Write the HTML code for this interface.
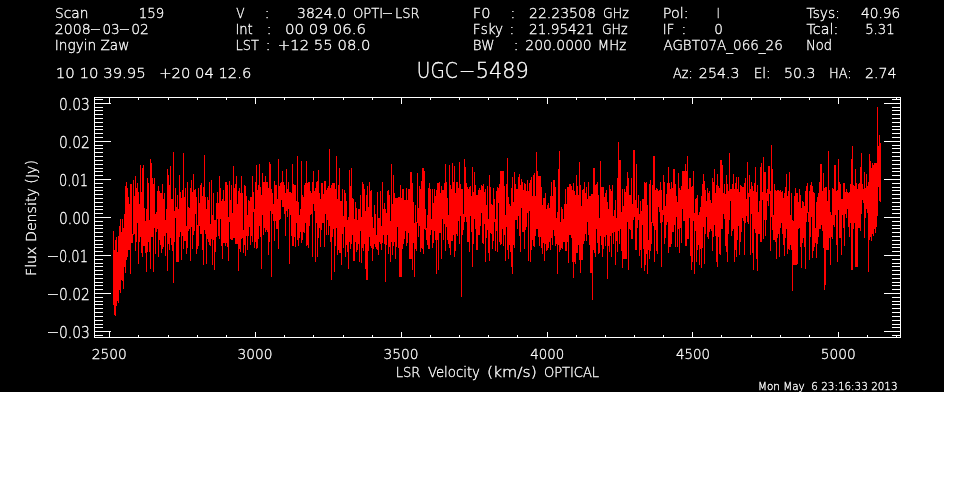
<!DOCTYPE html>
<html><head><meta charset="utf-8"><title>UGC-5489</title>
<style>html,body{margin:0;padding:0;background:#fff;}svg{display:block}</style></head>
<body><svg width="962" height="490" viewBox="0 0 962 490">
<rect x="0" y="0" width="962" height="490" fill="#fff"/>
<rect x="0" y="0" width="944" height="392" fill="#000"/>
<path d="M113.5 231V305M114.5 250V315M115.5 240V316M116.5 237V306M117.5 252V301M118.5 236V303M119.5 226V290M120.5 219V293M121.5 232V280M122.5 219V281M123.5 228V289M124.5 214V267M125.5 186V273M126.5 182V260M127.5 188V257M128.5 197V250M129.5 204V250M130.5 184V274M131.5 184V243M132.5 234V243M133.5 180V235M134.5 196V234M135.5 176V251M136.5 188V242M137.5 183V223M138.5 192V264M139.5 204V242M140.5 165V237M141.5 192V253M142.5 168V257M143.5 165V246M144.5 208V246M145.5 221V253M146.5 209V272M147.5 178V252M148.5 183V242M149.5 220V252M150.5 159V269M151.5 163V237M152.5 178V237M153.5 184V272M154.5 178V228M155.5 214V254M156.5 212V232M157.5 191V229M158.5 186V257M159.5 191V240M160.5 193V245M161.5 193V253M162.5 184V249M163.5 199V247M164.5 193V236M165.5 220V256M166.5 209V233M167.5 169V271M168.5 175V244M169.5 185V250M170.5 166V238M171.5 199V245M172.5 199V251M173.5 152V283M174.5 211V242M175.5 188V218M176.5 207V262M177.5 195V262M178.5 209V262M179.5 175V237M180.5 192V232M181.5 198V260M182.5 190V236M183.5 153V249M184.5 197V241M185.5 188V241M186.5 226V254M187.5 182V248M188.5 207V231M189.5 208V229M190.5 188V261M191.5 180V227M192.5 192V249M193.5 174V235M194.5 190V231M195.5 189V214M196.5 197V254M197.5 225V249M198.5 188V246M199.5 203V226M200.5 185V234M201.5 183V234M202.5 196V250M203.5 187V265M204.5 155V230M205.5 197V234M206.5 209V264M207.5 197V239M208.5 200V242M209.5 182V245M210.5 224V246M211.5 180V239M212.5 215V265M213.5 193V240M214.5 220V270M215.5 220V252M216.5 203V237M217.5 192V219M218.5 203V236M219.5 176V239M220.5 188V219M221.5 201V246M222.5 199V259M223.5 190V243M224.5 201V243M225.5 182V246M226.5 182V243M227.5 185V247M228.5 217V261M229.5 181V222M230.5 200V239M231.5 185V240M232.5 213V240M233.5 166V238M234.5 188V238M235.5 184V244M236.5 176V244M237.5 204V244M238.5 191V271M239.5 188V249M240.5 193V252M241.5 176V239M242.5 193V238M243.5 230V253M244.5 185V245M245.5 186V256M246.5 196V236M247.5 215V250M248.5 200V236M249.5 201V227M250.5 197V245M251.5 197V236M252.5 176V242M253.5 192V212M254.5 209V248M255.5 182V242M256.5 165V249M257.5 190V248M258.5 185V239M259.5 164V226M260.5 187V237M261.5 195V269M262.5 173V215M263.5 182V235M264.5 182V228M265.5 176V232M266.5 182V230M267.5 182V232M268.5 188V255M269.5 162V242M270.5 164V211M271.5 189V277M272.5 193V214M273.5 204V221M274.5 181V241M275.5 185V221M276.5 185V229M277.5 199V229M278.5 159V249M279.5 186V220M280.5 183V219M281.5 182V200M282.5 171V207M283.5 182V207M284.5 185V214M285.5 193V236M286.5 169V211M287.5 189V217M288.5 182V209M289.5 192V264M290.5 192V215M291.5 193V236M292.5 164V246M293.5 184V246M294.5 185V237M295.5 185V247M296.5 201V223M297.5 156V240M298.5 202V246M299.5 215V238M300.5 209V232M301.5 161V243M302.5 195V240M303.5 197V232M304.5 185V233M305.5 183V223M306.5 161V246M307.5 183V245M308.5 182V248M309.5 182V226M310.5 191V215M311.5 193V214M312.5 182V257M313.5 171V204M314.5 191V211M315.5 188V262M316.5 182V223M317.5 181V257M318.5 170V238M319.5 193V228M320.5 199V247M321.5 183V230M322.5 183V223M323.5 194V223M324.5 181V247M325.5 181V214M326.5 190V235M327.5 188V220M328.5 186V235M329.5 149V226M330.5 188V242M331.5 185V280M332.5 183V237M333.5 183V229M334.5 183V272M335.5 189V246M336.5 156V228M337.5 199V255M338.5 185V250M339.5 168V253M340.5 201V253M341.5 201V265M342.5 189V234M343.5 216V248M344.5 190V227M345.5 193V257M346.5 201V245M347.5 220V252M348.5 217V269M349.5 170V242M350.5 186V249M351.5 168V244M352.5 198V235M353.5 199V261M354.5 219V261M355.5 202V242M356.5 208V252M357.5 220V250M358.5 209V244M359.5 209V262M360.5 195V231M361.5 217V263M362.5 182V248M363.5 184V251M364.5 189V244M365.5 211V269M366.5 195V280M367.5 186V280M368.5 207V251M369.5 182V237M370.5 191V246M371.5 190V248M372.5 217V261M373.5 228V249M374.5 205V244M375.5 214V247M376.5 235V249M377.5 192V250M378.5 218V255M379.5 218V242M380.5 191V244M381.5 226V250M382.5 182V243M383.5 209V235M384.5 203V244M385.5 209V282M386.5 213V245M387.5 191V235M388.5 190V254M389.5 195V247M390.5 221V262M391.5 164V242M392.5 204V255M393.5 175V246M394.5 193V242M395.5 198V259M396.5 198V247M397.5 198V227M398.5 197V248M399.5 197V277M400.5 185V277M401.5 198V277M402.5 189V249M403.5 189V244M404.5 200V239M405.5 200V231M406.5 188V246M407.5 200V243M408.5 189V233M409.5 189V259M410.5 172V259M411.5 172V259M412.5 183V270M413.5 202V243M414.5 223V277M415.5 205V249M416.5 222V251M417.5 173V223M418.5 208V237M419.5 186V226M420.5 189V252M421.5 181V248M422.5 168V249M423.5 168V254M424.5 171V229M425.5 209V230M426.5 228V240M427.5 215V245M428.5 188V249M429.5 183V249M430.5 189V235M431.5 219V230M432.5 189V248M433.5 203V243M434.5 189V231M435.5 196V240M436.5 190V274M437.5 183V240M438.5 183V270M439.5 182V233M440.5 193V233M441.5 186V259M442.5 190V219M443.5 190V240M444.5 183V224M445.5 164V251M446.5 182V227M447.5 198V240M448.5 215V244M449.5 165V248M450.5 185V255M451.5 189V241M452.5 163V241M453.5 182V235M454.5 166V257M455.5 193V251M456.5 182V234M457.5 182V236M458.5 188V221M459.5 162V244M460.5 184V216M461.5 189V297M462.5 189V235M463.5 214V230M464.5 159V222M465.5 167V217M466.5 183V222M467.5 187V242M468.5 189V242M469.5 187V252M470.5 186V216M471.5 196V232M472.5 167V267M473.5 192V244M474.5 172V219M475.5 185V229M476.5 195V250M477.5 195V250M478.5 190V235M479.5 188V235M480.5 190V226M481.5 185V213M482.5 186V243M483.5 184V244M484.5 192V224M485.5 189V262M486.5 205V238M487.5 186V230M488.5 219V253M489.5 175V261M490.5 187V233M491.5 204V234M492.5 205V249M493.5 188V241M494.5 199V222M495.5 219V251M496.5 191V231M497.5 187V252M498.5 188V203M499.5 184V242M500.5 171V245M501.5 171V244M502.5 171V229M503.5 171V246M504.5 186V235M505.5 215V261M506.5 184V227M507.5 158V250M508.5 197V259M509.5 204V245M510.5 206V252M511.5 188V267M512.5 177V274M513.5 202V245M514.5 172V248M515.5 184V220M516.5 189V220M517.5 189V229M518.5 177V216M519.5 174V236M520.5 185V252M521.5 179V208M522.5 182V232M523.5 190V232M524.5 183V249M525.5 184V230M526.5 191V227M527.5 180V213M528.5 191V261M529.5 183V211M530.5 180V262M531.5 177V250M532.5 196V240M533.5 175V246M534.5 173V247M535.5 196V236M536.5 152V229M537.5 171V229M538.5 176V237M539.5 176V246M540.5 176V237M541.5 187V248M542.5 205V254M543.5 198V243M544.5 198V261M545.5 193V244M546.5 209V251M547.5 205V250M548.5 203V248M549.5 208V242M550.5 196V250M551.5 182V238M552.5 196V245M553.5 180V230M554.5 180V236M555.5 187V246M556.5 218V244M557.5 212V274M558.5 169V245M559.5 151V252M560.5 222V250M561.5 207V248M562.5 209V249M563.5 219V242M564.5 204V242M565.5 189V251M566.5 204V251M567.5 187V242M568.5 187V263M569.5 184V235M570.5 184V235M571.5 186V238M572.5 190V262M573.5 183V278M574.5 191V262M575.5 195V264M576.5 175V253M577.5 186V253M578.5 195V245M579.5 162V260M580.5 185V273M581.5 206V260M582.5 190V260M583.5 189V244M584.5 182V241M585.5 193V234M586.5 187V241M587.5 199V222M588.5 182V235M589.5 196V245M590.5 196V273M591.5 194V273M592.5 194V300M593.5 168V250M594.5 168V253M595.5 185V257M596.5 184V229M597.5 182V243M598.5 195V254M599.5 218V253M600.5 161V236M601.5 187V245M602.5 187V257M603.5 187V249M604.5 197V237M605.5 193V246M606.5 190V235M607.5 202V279M608.5 209V246M609.5 185V252M610.5 189V236M611.5 191V257M612.5 185V233M613.5 216V244M614.5 210V232M615.5 200V265M616.5 218V241M617.5 178V252M618.5 142V231M619.5 160V244M620.5 160V229M621.5 212V251M622.5 189V268M623.5 206V259M624.5 189V259M625.5 192V259M626.5 186V259M627.5 172V222M628.5 178V270M629.5 195V229M630.5 195V230M631.5 178V239M632.5 204V239M633.5 150V220M634.5 150V217M635.5 200V250M636.5 164V250M637.5 208V228M638.5 195V220M639.5 214V256M640.5 201V250M641.5 211V268M642.5 199V225M643.5 199V249M644.5 182V271M645.5 183V265M646.5 182V254M647.5 205V274M648.5 240V250M649.5 184V259M650.5 180V251M651.5 222V244M652.5 185V223M653.5 156V226M654.5 156V262M655.5 190V230M656.5 188V251M657.5 189V254M658.5 191V207M659.5 190V212M660.5 182V223M661.5 190V267M662.5 210V222M663.5 175V215M664.5 182V244M665.5 206V238M666.5 194V225M667.5 183V222M668.5 167V253M669.5 183V247M670.5 189V247M671.5 182V244M672.5 188V232M673.5 169V232M674.5 169V225M675.5 184V247M676.5 196V217M677.5 202V247M678.5 173V229M679.5 188V253M680.5 190V228M681.5 186V243M682.5 171V209M683.5 171V221M684.5 171V221M685.5 164V246M686.5 171V246M687.5 156V239M688.5 189V239M689.5 178V218M690.5 178V256M691.5 187V270M692.5 186V262M693.5 171V221M694.5 213V274M695.5 199V231M696.5 198V262M697.5 195V250M698.5 215V245M699.5 212V265M700.5 207V249M701.5 196V268M702.5 184V248M703.5 174V227M704.5 181V264M705.5 190V234M706.5 201V217M707.5 188V237M708.5 193V239M709.5 191V232M710.5 200V229M711.5 203V231M712.5 178V251M713.5 182V237M714.5 169V225M715.5 193V236M716.5 185V262M717.5 174V267M718.5 186V237M719.5 188V254M720.5 160V255M721.5 160V229M722.5 165V229M723.5 193V214M724.5 184V219M725.5 194V246M726.5 175V252M727.5 184V262M728.5 191V234M729.5 153V220M730.5 189V201M731.5 189V236M732.5 184V231M733.5 174V229M734.5 189V262M735.5 183V250M736.5 177V257M737.5 189V240M738.5 177V226M739.5 192V255M740.5 185V242M741.5 186V232M742.5 187V218M743.5 187V221M744.5 183V255M745.5 178V223M746.5 199V216M747.5 162V222M748.5 193V224M749.5 175V197M750.5 189V255M751.5 182V214M752.5 186V253M753.5 191V270M754.5 183V229M755.5 167V233M756.5 192V259M757.5 185V271M758.5 212V234M759.5 201V234M760.5 167V242M761.5 163V242M762.5 192V200M763.5 157V239M764.5 172V220M765.5 172V236M766.5 193V220M767.5 189V201M768.5 166V206M769.5 166V194M770.5 191V251M771.5 145V217M772.5 169V230M773.5 215V240M774.5 184V240M775.5 190V242M776.5 191V259M777.5 190V238M778.5 190V234M779.5 191V257M780.5 190V228M781.5 192V223M782.5 191V234M783.5 198V245M784.5 193V256M785.5 187V238M786.5 174V229M787.5 196V254M788.5 191V249M789.5 172V250M790.5 215V245M791.5 193V250M792.5 220V291M793.5 221V265M794.5 196V265M795.5 188V265M796.5 193V265M797.5 193V264M798.5 202V229M799.5 189V228M800.5 195V247M801.5 208V268M802.5 201V243M803.5 202V238M804.5 206V247M805.5 191V269M806.5 186V222M807.5 183V213M808.5 212V222M809.5 191V260M810.5 185V237M811.5 182V217M812.5 186V258M813.5 192V251M814.5 193V247M815.5 228V243M816.5 202V258M817.5 197V244M818.5 193V237M819.5 182V229M820.5 164V229M821.5 164V225M822.5 191V231M823.5 173V248M824.5 188V290M825.5 187V285M826.5 187V250M827.5 201V250M828.5 151V250M829.5 190V238M830.5 212V265M831.5 215V237M832.5 188V239M833.5 189V225M834.5 165V227M835.5 165V215M836.5 191V245M837.5 190V262M838.5 159V210M839.5 182V238M840.5 184V238M841.5 199V255M842.5 199V215M843.5 183V228M844.5 183V246M845.5 192V214M846.5 189V218M847.5 192V209M848.5 193V227M849.5 192V237M850.5 184V223M851.5 159V270M852.5 146V270M853.5 185V229M854.5 186V223M855.5 169V267M856.5 183V267M857.5 189V267M858.5 184V228M859.5 183V228M860.5 167V231M861.5 153V214M862.5 184V200M863.5 189V203M864.5 172V238M865.5 188V218M866.5 174V209M867.5 186V213M868.5 182V272M869.5 154V240M870.5 161V237M871.5 168V241M872.5 163V234M873.5 165V236M874.5 163V229M875.5 163V233M876.5 163V227M877.5 107V216M878.5 146V187M879.5 135V201M880.5 143V202" stroke="#f00" stroke-width="1" fill="none" shape-rendering="crispEdges"/>
<path d="M94 97.5H901M94 337.5H901M94.5 97V338M900.5 97V338M109.5 97V104M109.5 332V338M138.5 97V100M138.5 335V338M168.5 97V100M168.5 335V338M197.5 97V100M197.5 335V338M226.5 97V100M226.5 335V338M255.5 97V104M255.5 332V338M284.5 97V100M284.5 335V338M313.5 97V100M313.5 335V338M343.5 97V100M343.5 335V338M372.5 97V100M372.5 335V338M401.5 97V104M401.5 332V338M430.5 97V100M430.5 335V338M459.5 97V100M459.5 335V338M488.5 97V100M488.5 335V338M517.5 97V100M517.5 335V338M547.5 97V104M547.5 332V338M576.5 97V100M576.5 335V338M605.5 97V100M605.5 335V338M634.5 97V100M634.5 335V338M663.5 97V100M663.5 335V338M692.5 97V104M692.5 332V338M721.5 97V100M721.5 335V338M751.5 97V100M751.5 335V338M780.5 97V100M780.5 335V338M809.5 97V100M809.5 335V338M838.5 97V104M838.5 332V338M867.5 97V100M867.5 335V338M896.5 97V100M896.5 335V338M94 335.5H103M892 335.5H901M94 331.5H111M884 331.5H901M94 327.5H103M892 327.5H901M94 324.5H103M892 324.5H901M94 320.5H103M892 320.5H901M94 316.5H103M892 316.5H901M94 312.5H103M892 312.5H901M94 308.5H103M892 308.5H901M94 304.5H103M892 304.5H901M94 301.5H103M892 301.5H901M94 297.5H103M892 297.5H901M94 293.5H111M884 293.5H901M94 289.5H103M892 289.5H901M94 285.5H103M892 285.5H901M94 282.5H103M892 282.5H901M94 278.5H103M892 278.5H901M94 274.5H103M892 274.5H901M94 270.5H103M892 270.5H901M94 266.5H103M892 266.5H901M94 263.5H103M892 263.5H901M94 259.5H103M892 259.5H901M94 255.5H111M884 255.5H901M94 251.5H103M892 251.5H901M94 247.5H103M892 247.5H901M94 244.5H103M892 244.5H901M94 240.5H103M892 240.5H901M94 236.5H103M892 236.5H901M94 232.5H103M892 232.5H901M94 228.5H103M892 228.5H901M94 225.5H103M892 225.5H901M94 221.5H103M892 221.5H901M94 217.5H111M884 217.5H901M94 213.5H103M892 213.5H901M94 209.5H103M892 209.5H901M94 206.5H103M892 206.5H901M94 202.5H103M892 202.5H901M94 198.5H103M892 198.5H901M94 194.5H103M892 194.5H901M94 190.5H103M892 190.5H901M94 187.5H103M892 187.5H901M94 183.5H103M892 183.5H901M94 179.5H111M884 179.5H901M94 175.5H103M892 175.5H901M94 171.5H103M892 171.5H901M94 168.5H103M892 168.5H901M94 164.5H103M892 164.5H901M94 160.5H103M892 160.5H901M94 156.5H103M892 156.5H901M94 152.5H103M892 152.5H901M94 148.5H103M892 148.5H901M94 145.5H103M892 145.5H901M94 141.5H111M884 141.5H901M94 137.5H103M892 137.5H901M94 133.5H103M892 133.5H901M94 129.5H103M892 129.5H901M94 126.5H103M892 126.5H901M94 122.5H103M892 122.5H901M94 118.5H103M892 118.5H901M94 114.5H103M892 114.5H901M94 110.5H103M892 110.5H901M94 107.5H103M892 107.5H901M94 103.5H111M884 103.5H901M94 99.5H103M892 99.5H901" stroke="#fff" stroke-width="1" fill="none" shape-rendering="crispEdges"/>
<g fill="#fff" stroke="#fff" stroke-width="0.3" font-family="'DejaVu Sans', sans-serif" font-weight="200" style="white-space:pre">
<text xml:space="preserve" font-size="14"><tspan x="55.02" y="18" textLength="33.41" lengthAdjust="spacingAndGlyphs">Scan</tspan> <tspan x="138.85" y="18" textLength="25.45" lengthAdjust="spacingAndGlyphs">159</tspan></text>
<text xml:space="preserve" font-size="14"><tspan x="236.20" y="18" textLength="8.30" lengthAdjust="spacingAndGlyphs">V</tspan> <tspan x="264.70" y="18" textLength="4.72" lengthAdjust="spacingAndGlyphs">:</tspan> <tspan x="297.00" y="18" textLength="49.10" lengthAdjust="spacingAndGlyphs">3824.0</tspan> <tspan x="352.96" y="18" textLength="30.12" lengthAdjust="spacingAndGlyphs">OPTI</tspan><tspan x="381.65" y="17" textLength="11.39" lengthAdjust="spacingAndGlyphs">-</tspan><tspan x="395.07" y="18" textLength="24.52" lengthAdjust="spacingAndGlyphs">LSR</tspan></text>
<text xml:space="preserve" font-size="14"><tspan x="472.76" y="18" textLength="17.65" lengthAdjust="spacingAndGlyphs">F0</tspan> <tspan x="510.60" y="18" textLength="4.72" lengthAdjust="spacingAndGlyphs">:</tspan> <tspan x="529.00" y="18" textLength="66.81" lengthAdjust="spacingAndGlyphs">22.23508</tspan> <tspan x="603.00" y="18" textLength="25.76" lengthAdjust="spacingAndGlyphs">GHz</tspan></text>
<text xml:space="preserve" font-size="14"><tspan x="662.77" y="18" textLength="25.78" lengthAdjust="spacingAndGlyphs">Pol:</tspan> <tspan x="716.70" y="18" textLength="2.90" lengthAdjust="spacingAndGlyphs">I</tspan></text>
<text xml:space="preserve" font-size="14"><tspan x="806.50" y="18" textLength="33.30" lengthAdjust="spacingAndGlyphs">Tsys:</tspan> <tspan x="861.10" y="18" textLength="39.17" lengthAdjust="spacingAndGlyphs">40.96</tspan></text>
<text xml:space="preserve" font-size="14"><tspan x="54.89" y="34" textLength="35.96" lengthAdjust="spacingAndGlyphs">2008</tspan><tspan x="89.68" y="33" textLength="11.26" lengthAdjust="spacingAndGlyphs">-</tspan><tspan x="102.43" y="34" textLength="17.38" lengthAdjust="spacingAndGlyphs">03</tspan><tspan x="118.78" y="33" textLength="11.26" lengthAdjust="spacingAndGlyphs">-</tspan><tspan x="131.21" y="34" textLength="17.72" lengthAdjust="spacingAndGlyphs">02</tspan></text>
<text xml:space="preserve" font-size="14"><tspan x="235.46" y="34" textLength="17.30" lengthAdjust="spacingAndGlyphs">Int</tspan> <tspan x="266.75" y="34" textLength="4.72" lengthAdjust="spacingAndGlyphs">:</tspan> <tspan x="285.03" y="34" textLength="81.02" lengthAdjust="spacingAndGlyphs">00 09 06.6</tspan></text>
<text xml:space="preserve" font-size="14"><tspan x="472.83" y="34" textLength="30.31" lengthAdjust="spacingAndGlyphs">Fsky</tspan> <tspan x="509.50" y="34" textLength="4.72" lengthAdjust="spacingAndGlyphs">:</tspan> <tspan x="529.02" y="34" textLength="65.14" lengthAdjust="spacingAndGlyphs">21.95421</tspan> <tspan x="601.91" y="34" textLength="25.66" lengthAdjust="spacingAndGlyphs">GHz</tspan></text>
<text xml:space="preserve" font-size="14"><tspan x="662.86" y="34" textLength="11.46" lengthAdjust="spacingAndGlyphs">IF</tspan> <tspan x="681.55" y="34" textLength="4.72" lengthAdjust="spacingAndGlyphs">:</tspan> <tspan x="714.13" y="34" textLength="8.67" lengthAdjust="spacingAndGlyphs">0</tspan></text>
<text xml:space="preserve" font-size="14"><tspan x="806.50" y="34" textLength="31.81" lengthAdjust="spacingAndGlyphs">Tcal:</tspan> <tspan x="865.16" y="34" textLength="29.45" lengthAdjust="spacingAndGlyphs">5.31</tspan></text>
<text xml:space="preserve" x="54.83" y="50" font-size="14" textLength="74.57" lengthAdjust="spacingAndGlyphs">Ingyin Zaw</text>
<text xml:space="preserve" font-size="14"><tspan x="235.47" y="50" textLength="23.36" lengthAdjust="spacingAndGlyphs">LST</tspan> <tspan x="265.70" y="50" textLength="4.72" lengthAdjust="spacingAndGlyphs">:</tspan> <tspan x="277.84" y="50" textLength="92.68" lengthAdjust="spacingAndGlyphs">+12 55 08.0</tspan></text>
<text xml:space="preserve" font-size="14"><tspan x="472.84" y="50" textLength="21.61" lengthAdjust="spacingAndGlyphs">BW</tspan> <tspan x="513.70" y="50" textLength="4.72" lengthAdjust="spacingAndGlyphs">:</tspan> <tspan x="525.31" y="50" textLength="66.40" lengthAdjust="spacingAndGlyphs">200.0000</tspan> <tspan x="597.81" y="50" textLength="28.36" lengthAdjust="spacingAndGlyphs">MHz</tspan></text>
<text xml:space="preserve" x="663.40" y="50" font-size="14" textLength="119.40" lengthAdjust="spacingAndGlyphs">AGBT07A_066_26</text>
<text xml:space="preserve" x="805.97" y="50" font-size="14" textLength="26.11" lengthAdjust="spacingAndGlyphs">Nod</text>
<text xml:space="preserve" font-size="14"><tspan x="55.74" y="78" textLength="90.08" lengthAdjust="spacingAndGlyphs">10 10 39.95</tspan> <tspan x="159.25" y="78" textLength="92.07" lengthAdjust="spacingAndGlyphs">+20 04 12.6</tspan></text>
<text xml:space="preserve" font-size="21"><tspan x="416.84" y="78" textLength="40.84" lengthAdjust="spacingAndGlyphs">UGC</tspan><tspan x="458.80" y="77" textLength="16.67" lengthAdjust="spacingAndGlyphs">-</tspan><tspan x="475.82" y="78" textLength="53.03" lengthAdjust="spacingAndGlyphs">5489</tspan></text>
<text xml:space="preserve" font-size="14"><tspan x="673.10" y="78" textLength="19.60" lengthAdjust="spacingAndGlyphs">Az:</tspan> <tspan x="698.89" y="78" textLength="40.52" lengthAdjust="spacingAndGlyphs">254.3</tspan> <tspan x="753.63" y="78" textLength="16.99" lengthAdjust="spacingAndGlyphs">El:</tspan> <tspan x="783.99" y="78" textLength="31.49" lengthAdjust="spacingAndGlyphs">50.3</tspan> <tspan x="828.98" y="78" textLength="22.57" lengthAdjust="spacingAndGlyphs">HA:</tspan> <tspan x="865.09" y="78" textLength="31.49" lengthAdjust="spacingAndGlyphs">2.74</tspan></text>
<text xml:space="preserve" font-size="14"><tspan x="395.76" y="377" textLength="24.73" lengthAdjust="spacingAndGlyphs">LSR</tspan> <tspan x="427.90" y="377" textLength="52.07" lengthAdjust="spacingAndGlyphs">Velocity</tspan> <tspan x="486.98" y="377" textLength="49.88" lengthAdjust="spacingAndGlyphs">(km/s)</tspan> <tspan x="543.97" y="377" textLength="55.11" lengthAdjust="spacingAndGlyphs">OPTICAL</tspan></text>
<text xml:space="preserve" x="757.96" y="390" font-size="10" textLength="139.63" lengthAdjust="spacingAndGlyphs">Mon May  6 23:16:33 2013</text>
<text xml:space="preserve" x="58.88" y="109.6" font-size="15.2" textLength="30.97" lengthAdjust="spacingAndGlyphs">0.03</text>
<text xml:space="preserve" x="58.88" y="147.6" font-size="15.2" textLength="30.97" lengthAdjust="spacingAndGlyphs">0.02</text>
<text xml:space="preserve" x="58.94" y="185.6" font-size="15.2" textLength="29.03" lengthAdjust="spacingAndGlyphs">0.01</text>
<text xml:space="preserve" x="58.88" y="223.6" font-size="15.2" textLength="30.97" lengthAdjust="spacingAndGlyphs">0.00</text>
<text xml:space="preserve" font-size="15.2"><tspan x="46.65" y="260.6" textLength="12.34" lengthAdjust="spacingAndGlyphs">-</tspan><tspan x="58.94" y="261.6" textLength="29.03" lengthAdjust="spacingAndGlyphs">0.01</tspan></text>
<text xml:space="preserve" font-size="15.2"><tspan x="46.65" y="298.6" textLength="12.34" lengthAdjust="spacingAndGlyphs">-</tspan><tspan x="58.88" y="299.6" textLength="30.97" lengthAdjust="spacingAndGlyphs">0.02</tspan></text>
<text xml:space="preserve" font-size="15.2"><tspan x="46.65" y="336.6" textLength="12.34" lengthAdjust="spacingAndGlyphs">-</tspan><tspan x="58.88" y="337.6" textLength="30.97" lengthAdjust="spacingAndGlyphs">0.03</tspan></text>
<text xml:space="preserve" x="91.82" y="359" font-size="14" textLength="35.01" lengthAdjust="spacingAndGlyphs">2500</text>
<text xml:space="preserve" x="237.62" y="359" font-size="14" textLength="35.01" lengthAdjust="spacingAndGlyphs">3000</text>
<text xml:space="preserve" x="383.42" y="359" font-size="14" textLength="35.01" lengthAdjust="spacingAndGlyphs">3500</text>
<text xml:space="preserve" x="530.20" y="359" font-size="14" textLength="34.01" lengthAdjust="spacingAndGlyphs">4000</text>
<text xml:space="preserve" x="676.00" y="359" font-size="14" textLength="34.01" lengthAdjust="spacingAndGlyphs">4500</text>
<text xml:space="preserve" x="820.82" y="359" font-size="14" textLength="35.01" lengthAdjust="spacingAndGlyphs">5000</text>
<text x="0" y="0" font-size="14.5" textLength="116" lengthAdjust="spacingAndGlyphs" transform="translate(36 276) rotate(-90)">Flux Density (Jy)</text>
</g>
</svg></body></html>
